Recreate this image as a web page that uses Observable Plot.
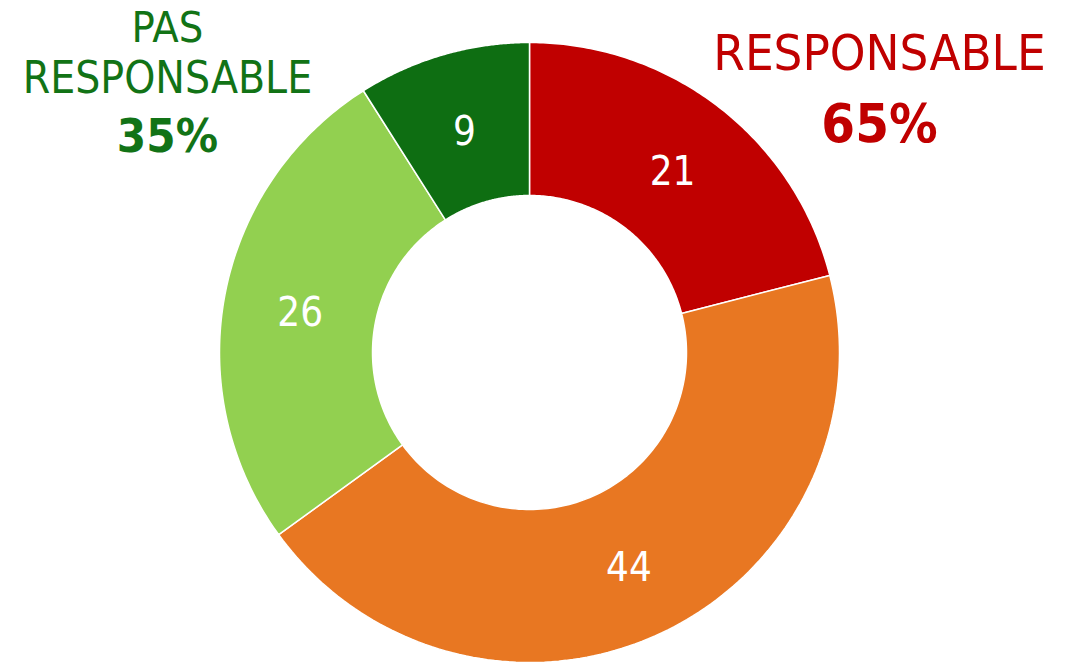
<!DOCTYPE html>
<html>
<head>
<meta charset="utf-8">
<script src="https://cdn.jsdelivr.net/npm/d3@7"></script>
<script src="https://cdn.jsdelivr.net/npm/@observablehq/plot@0.6"></script>
<style>
  html, body { margin: 0; padding: 0; background: #fff; }
  svg { display: block; }
</style>
</head>
<body>
<div id="chart"></div>
<script>
// Data (clockwise from 12 o'clock)
const categories = ["Responsable A", "Responsable B", "Pas responsable A", "Pas responsable B"];
const values = [21, 44, 26, 9];
const colors = ["#C00000", "#E87722", "#92D050", "#0E6E12"];
const groupLabels = ["RESPONSABLE", "PAS RESPONSABLE"];
const groupShares = ["65%", "35%"];

const FONT = "'DejaVu Sans Condensed', 'DejaVu Sans', sans-serif";
const inner = 157 / 310;
const total = d3.sum(values);
let acc = 0;
const slices = values.map((v, i) => {
  const a0 = acc / total * 2 * Math.PI;
  acc += v;
  const a1 = acc / total * 2 * Math.PI;
  return {cat: categories[i], value: v, color: colors[i], a0, a1};
});

// sample polygon outlines in unit (data) space
const poly = [];
slices.forEach(s => {
  const n = 120;
  const pts = [];
  for (let k = 0; k <= n; k++) {
    const a = s.a0 + (s.a1 - s.a0) * k / n;
    pts.push({cat: s.cat, color: s.color, x: Math.sin(a), y: Math.cos(a)});
  }
  for (let k = n; k >= 0; k--) {
    const a = s.a0 + (s.a1 - s.a0) * k / n;
    pts.push({cat: s.cat, color: s.color, x: inner * Math.sin(a), y: inner * Math.cos(a)});
  }
  pts.push({...pts[0]});
  poly.push(...pts);
});

const mid = (1 + inner) / 2;
const labels = slices.map(s => {
  const a = (s.a0 + s.a1) / 2;
  return {text: String(s.value), x: mid * Math.sin(a), y: mid * Math.cos(a)};
});

const chart = Plot.plot({
  width: 1076,
  height: 663,
  margin: 0,
  style: {background: "#fff"},
  x: {domain: [-529 / 310, (1076 - 529) / 310], axis: null},
  y: {domain: [-(663 - 352) / 310, 352 / 310], axis: null},
  marks: [
    Plot.line(poly, {x: "x", y: "y", z: "cat", fill: "color", stroke: "#fff", strokeWidth: 1.5, curve: "linear"}),
    Plot.text(labels, {x: "x", y: "y", text: "text", fill: "#fff", fontSize: 40, fontWeight: 500, fontFamily: FONT, dy: 4}),
    Plot.text([groupLabels[0]], {x: 1.129, y: 0.9645, text: d => d, fill: "#C00000", fontSize: 50.5, fontFamily: FONT}),
    Plot.text([groupShares[0]], {x: 1.129, y: 0.742, text: d => d, fill: "#C00000", fontSize: 54, fontWeight: "bold", fontFamily: FONT, dy: 2}),
    Plot.text(["PAS"], {x: -1.168, y: 1.048, text: d => d, fill: "#127316", fontSize: 43, fontFamily: FONT, dy: 1}),
    Plot.text(["RESPONSABLE"], {x: -1.168, y: 0.887, text: d => d, fill: "#127316", fontSize: 44, fontFamily: FONT, dy: 1}),
    Plot.text([groupShares[1]], {x: -1.168, y: 0.7, text: d => d, fill: "#127316", fontSize: 47, fontWeight: "bold", fontFamily: FONT, dy: 1})
  ]
});
document.getElementById("chart").appendChild(chart);
</script>
</body>
</html>
